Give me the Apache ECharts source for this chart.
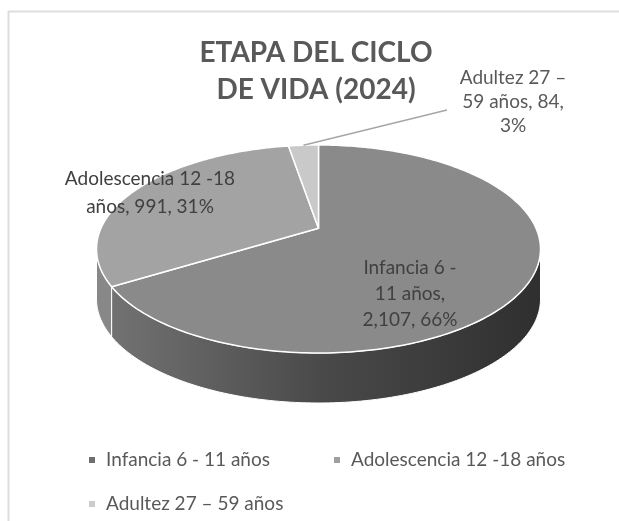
<!DOCTYPE html>
<html>
<head>
<meta charset="utf-8">
<script src="https://cdn.jsdelivr.net/npm/echarts@6/dist/echarts.min.js"></script>
<style>
    html, body { margin: 0; padding: 0; background: #fff; }
    #main { width: 619px; height: 521px; }
</style>
</head>
<body>
<div id="main"></div>
<script>
// data
var categories = ['Infancia 6 - 11 años', 'Adolescencia 12 -18 años', 'Adultez 27 – 59 años']
var values = [2107, 991, 84]
var titleText = 'ETAPA DEL CICLO\nDE VIDA (2024)'

// styles
var topColors = ['#8a8a8a', '#a3a3a3', '#c9c9c9']
var legendColors = ['#6e6e6e', '#a0a0a0', '#cccccc']
var labelColors = ['#404040', '#404040', '#595959']
var FONT = 'Lato'

// 3d pie geometry (ellipse + perspective shift of the centre)
var CX = 318.5, CY = 249, RX = 222, RY = 104, K = -0.2, DEPTH = 50
var FRONT = [Math.acos(K), 2 * Math.PI - Math.acos(K)]

// label placement, words per wrapped line
var labelLayout = [
    { x: 410, y: 294, lh: 26, words: [3, 2, 2] },
    { x: 150, y: 193, lh: 28, words: [3, 3] },
    { x: 513, y: 102, lh: 24, words: [3, 3, 1], line: [447, 110] },
]

var total = values.reduce(function (s, v) { return s + v }, 0)

function sliceRange(i) {
    var before = 0
    for (var j = 0; j < i; j++) before += values[j]
    return [2 * Math.PI * before / total, 2 * Math.PI * (before + values[i]) / total]
}

function rim(t) {
    var u = Math.sin(t), v = -Math.cos(t)
    var d = 1 + K * v
    return [CX + RX * u * Math.sqrt(1 - K * K) / d, CY + RY * (v + K) / d]
}

function arc(a0, a1) {
    var n = Math.max(2, Math.ceil((a1 - a0) / 0.02))
    var pts = []
    for (var j = 0; j <= n; j++) pts.push(rim(a0 + (a1 - a0) * j / n))
    return pts
}

function wrap(text, counts) {
    var words = text.split(' '), lines = [], k = 0
    counts.forEach(function (c) {
        lines.push(words.slice(k, k + c).join(' '))
        k += c
    })
    return lines.join('\n')
}

var sideFills = [
    new echarts.graphic.LinearGradient(96, 0, 541, 0, [
        { offset: 0, color: '#757575' },
        { offset: 0.5, color: '#4a4a4a' },
        { offset: 1, color: '#2f2f2f' },
    ], true),
    '#888888',
    '#b5b5b5',
]

function renderSide(params, api) {
    var i = params.dataIndex
    var a = sliceRange(i)
    var lo = Math.max(a[0], FRONT[0]), hi = Math.min(a[1], FRONT[1])
    if (hi <= lo) return { type: 'group', children: [] }
    var top = arc(lo, hi)
    var pts = top.slice()
    for (var j = top.length - 1; j >= 0; j--) pts.push([top[j][0], top[j][1] + DEPTH])
    return {
        type: 'polygon',
        shape: { points: pts },
        style: { fill: sideFills[i], stroke: '#ffffff', lineWidth: 1 },
    }
}

function makeTopRenderer(i) {
    return function (params, api) {
        var a = sliceRange(i)
        var pts = [[CX, CY + RY * K]].concat(arc(a[0], a[1]))
        var pct = Math.round(values[i] / total * 100)
        var lay = labelLayout[i]
        var text = wrap(categories[i] + ', ' + values[i].toLocaleString('en-US') + ', ' + pct + '%', lay.words)
        var children = [{
            type: 'polygon',
            shape: { points: pts },
            style: { fill: topColors[i], stroke: '#ffffff', lineWidth: 1.5, lineJoin: 'round' },
        }]
        if (lay.line) {
            var end = rim((a[0] + a[1]) / 2)
            children.push({
                type: 'line',
                shape: { x1: lay.line[0], y1: lay.line[1], x2: end[0], y2: end[1] },
                style: { stroke: '#a6a6a6', lineWidth: 1.5 },
            })
        }
        children.push({
            type: 'text',
            x: lay.x,
            y: lay.y,
            style: {
                text: text,
                fill: labelColors[i],
                fontFamily: FONT,
                fontSize: 19,
                lineHeight: lay.lh,
                align: 'center',
                verticalAlign: 'middle',
            },
        })
        return { type: 'group', children: children }
    }
}

var series = [{
    type: 'custom',
    name: '_side',
    coordinateSystem: 'none',
    z: 1,
    silent: true,
    renderItem: renderSide,
    data: values,
}]
categories.forEach(function (name, i) {
    series.push({
        type: 'custom',
        name: name,
        coordinateSystem: 'none',
        z: 2,
        silent: true,
        itemStyle: { color: legendColors[i] },
        renderItem: makeTopRenderer(i),
        data: [values[i]],
    })
})

var chart = echarts.init(document.getElementById('main'), null, { renderer: 'canvas' })
chart.setOption({
    animation: false,
    backgroundColor: '#ffffff',
    legend: {
        data: categories,
        left: 84,
        top: 438,
        width: 490,
        itemGap: 10,
        icon: 'rect',
        itemWidth: 6,
        itemHeight: 6,
        selectedMode: false,
        textStyle: {
            fontFamily: FONT,
            fontSize: 19,
            color: '#595959',
            width: 218,
            lineHeight: 34,
            padding: [0, 0, 0, 6],
        },
    },
    graphic: [
        { type: 'line', shape: { x1: 8, y1: 11.5, x2: 619, y2: 11.5 }, style: { stroke: '#dedede', lineWidth: 2 } },
        { type: 'line', shape: { x1: 8.5, y1: 11, x2: 8.5, y2: 521 }, style: { stroke: '#dedede', lineWidth: 2 } },
        {
            type: 'text',
            x: 316,
            y: 71.5,
            style: {
                text: titleText,
                fill: '#595959',
                fontFamily: FONT,
                fontWeight: 'bold',
                fontSize: 28,
                lineHeight: 37,
                align: 'center',
                verticalAlign: 'middle',
            },
        },
    ],
    series: series,
})
</script>
</body>
</html>
